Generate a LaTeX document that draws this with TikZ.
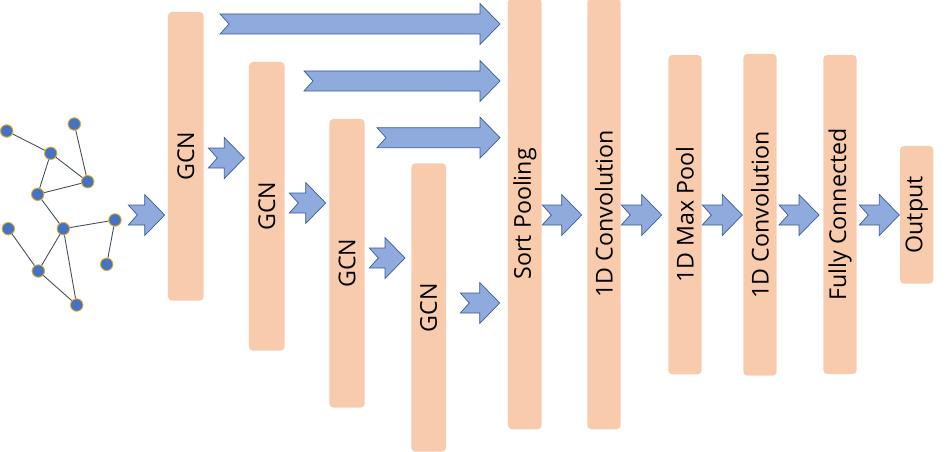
\documentclass[tikz,border=0pt]{standalone}
\usepackage{fontspec}
\setmainfont{Open Sans}
\definecolor{boxfill}{HTML}{F8CBAD}
\definecolor{arrfill}{HTML}{8FAADC}
\definecolor{arrdraw}{HTML}{3A5C99}
\definecolor{gnode}{HTML}{4472C4}
\definecolor{gring}{HTML}{E6B020}
\definecolor{gedge}{HTML}{46505E}
\tikzset{
  layer/.style={rectangle, rounded corners=4pt, fill=boxfill, draw=none, rotate=90,
    inner sep=0pt, font=\fontsize{23.2}{27}\selectfont, text=black},
  barrow/.style={fill=arrfill, draw=arrdraw, line width=0.7pt, line join=miter},
  gv/.style={circle, fill=gnode, draw=gring, line width=0.9pt, minimum size=12.5pt, inner sep=0pt},
  ge/.style={draw=gedge, line width=0.9pt}
}
% #1 = left x, #2 = tip x, #3 = centre y
\newcommand\blockarrow[3]{%
  \draw[barrow] (#1,{#3-10}) -- ({#2-20},{#3-10}) -- ({#2-20},{#3-20.5}) -- (#2,#3)
    -- ({#2-20},{#3+20.5}) -- ({#2-20},{#3+10}) -- (#1,{#3+10}) -- ({#1+9},#3) -- cycle;}
\begin{document}
\begin{tikzpicture}[x=1pt,y=-1pt]
\useasboundingbox (0,0) rectangle (950,452);
% layers (minimum width = vertical extent because of rotate=90)
\node[layer, minimum width=288.7pt, minimum height=35.7pt] (g1) at (185.8,156.3) {GCN};
\node[layer, minimum width=288.7pt, minimum height=35.7pt] (g2) at (266.8,206.3) {GCN};
\node[layer, minimum width=288.7pt, minimum height=35.4pt] (g3) at (347,263.3) {GCN};
\node[layer, minimum width=288.4pt, minimum height=34.7pt] (g4) at (428.7,307.5) {GCN};
\node[layer, minimum width=431pt, minimum height=33.7pt] (sp) at (524.8,213.8) {Sort Pooling};
\node[layer, minimum width=431pt, minimum height=33.4pt] (c1) at (604,213.8) {1D Convolution};
\node[layer, minimum width=319.3pt, minimum height=33.4pt] (mp) at (685,214.7) {1D Max Pool};
\node[layer, minimum width=321.7pt, minimum height=33.4pt] (c2) at (760,214.8) {1D Convolution};
\node[layer, minimum width=319pt, minimum height=33.4pt] (fc) at (840,214.5) {Fully Connected};
\node[layer, minimum width=137.7pt, minimum height=33.3pt] (out) at (916.7,214.8) {Output};
% block arrows
\blockarrow{220}{500}{24}
\blockarrow{304}{500}{81}
\blockarrow{377}{500}{137.7}
\blockarrow{128.3}{164.7}{215}
\blockarrow{208.3}{244.3}{158}
\blockarrow{289.3}{325.7}{203}
\blockarrow{369.3}{405}{258}
\blockarrow{460.3}{499.7}{303}
\blockarrow{542.3}{581.7}{215}
\blockarrow{621.3}{661.7}{215}
\blockarrow{702.3}{742.3}{215}
\blockarrow{779}{819}{215}
\blockarrow{859.3}{899.3}{215}
% input graph
\node[gv] (n1) at (6.7,131) {};
\node[gv] (n2) at (74.3,124) {};
\node[gv] (n3) at (50.7,153.3) {};
\node[gv] (n4) at (87.7,181.7) {};
\node[gv] (n5) at (37.7,194.3) {};
\node[gv] (n6) at (8.3,228.7) {};
\node[gv] (n7) at (63.3,228.7) {};
\node[gv] (n8) at (115,220) {};
\node[gv] (n9) at (106.7,264.3) {};
\node[gv] (n10) at (38.3,271) {};
\node[gv] (n11) at (76.7,305) {};
\draw[ge] (n1) -- (n3);
\draw[ge] (n2) -- (n4);
\draw[ge] (n3) -- (n4);
\draw[ge] (n3) -- (n5);
\draw[ge] (n5) -- (n4);
\draw[ge] (n5) -- (n7);
\draw[ge] (n7) -- (n8);
\draw[ge] (n8) -- (n9);
\draw[ge] (n6) -- (n10);
\draw[ge] (n10) -- (n7);
\draw[ge] (n10) -- (n11);
\draw[ge] (n7) -- (n11);
\end{tikzpicture}
\end{document}
